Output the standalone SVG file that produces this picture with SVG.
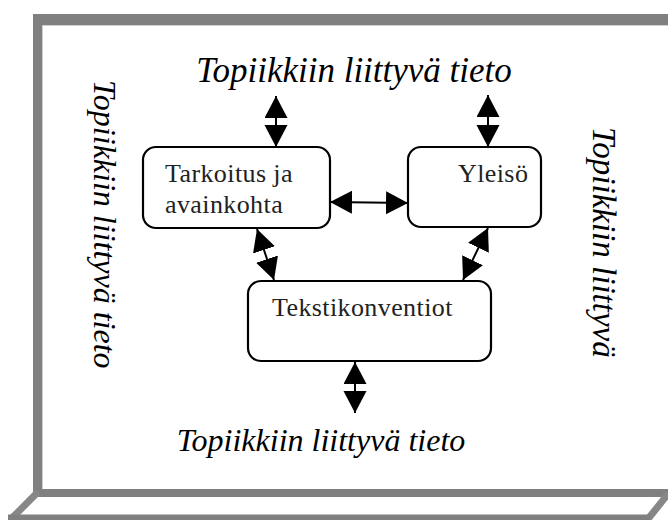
<svg xmlns="http://www.w3.org/2000/svg" width="668" height="520" viewBox="0 0 668 520">
  <defs>
    <marker id="ah" markerUnits="userSpaceOnUse" markerWidth="24" markerHeight="24" refX="22" refY="11.5" orient="auto-start-reverse" viewBox="0 0 24 24">
      <path d="M0,0 L22,11.5 L0,23 z" fill="#000"/>
    </marker>
  </defs>
  <style>
    .frame { fill: #808080; }
    .base { stroke: #878787; stroke-width: 7; fill: none; stroke-linecap: butt; }
    .box { fill: #fff; stroke: #000; stroke-width: 2.2; }
    .lbl { font-family: "Liberation Serif", "Times New Roman", serif; font-size: 26px; letter-spacing: 0.4px; fill: #222; }
    .topic { font-family: "Liberation Serif", "Times New Roman", serif; font-style: italic; font-size: 32px; fill: #000; }
    .conn { stroke: #000; stroke-width: 2; fill: none; marker-start: url(#ah); marker-end: url(#ah); }
  </style>

  <g id="frame">
    <rect class="frame" x="33" y="14" width="635" height="11"/>
    <rect class="frame" x="33" y="14" width="9" height="483"/>
    <rect class="frame" x="33" y="489" width="635" height="8"/>
    <line x1="42" y1="25.5" x2="668" y2="25.5" stroke="#d0d0d0" stroke-width="1"/>
    <line x1="42.5" y1="25" x2="42.5" y2="489" stroke="#d0d0d0" stroke-width="1"/>
    <line class="base" x1="38" y1="492" x2="11" y2="519"/>
    <line class="base" x1="668" y1="494" x2="648" y2="519"/>
    <line x1="8" y1="517.5" x2="650" y2="517.5" stroke="#808080" stroke-width="6"/>
  </g>

  <g id="connectors">
    <line class="conn" x1="276" y1="96" x2="276" y2="147"/>
    <line class="conn" x1="488" y1="95" x2="488" y2="147"/>
    <line class="conn" x1="330" y1="202" x2="408" y2="203"/>
    <line class="conn" x1="257" y1="229" x2="274" y2="280"/>
    <line class="conn" x1="488" y1="228" x2="463" y2="280"/>
    <line class="conn" x1="355" y1="362" x2="355" y2="413"/>
  </g>

  <g id="node-tarkoitus">
    <rect class="box" x="143" y="147" width="187" height="81" rx="13"/>
    <text class="lbl" x="165" y="182">Tarkoitus ja</text>
    <text class="lbl" x="165" y="213">avainkohta</text>
  </g>
  <g id="node-yleiso">
    <rect class="box" x="408" y="147" width="133" height="80" rx="13"/>
    <text class="lbl" x="458" y="182">Yleisö</text>
  </g>
  <g id="node-tekstikonventiot">
    <rect class="box" x="248" y="281" width="243" height="80" rx="13"/>
    <text class="lbl" x="272" y="316">Tekstikonventiot</text>
  </g>

  <g id="topic-top">
    <text class="topic" x="354" y="82" text-anchor="middle" style="font-size:35px">Topiikkiin liittyvä tieto</text>
  </g>
  <g id="topic-bottom">
    <text class="topic" x="321" y="451" text-anchor="middle">Topiikkiin liittyvä tieto</text>
  </g>
  <g id="topic-left">
    <text class="topic" transform="translate(94,80) rotate(90)">Topiikkiin liittyvä tieto</text>
  </g>
  <g id="topic-right">
    <text class="topic" style="font-size:33px" transform="translate(593,127) rotate(90)">Topiikkiin liittyvä</text>
  </g>
</svg>
